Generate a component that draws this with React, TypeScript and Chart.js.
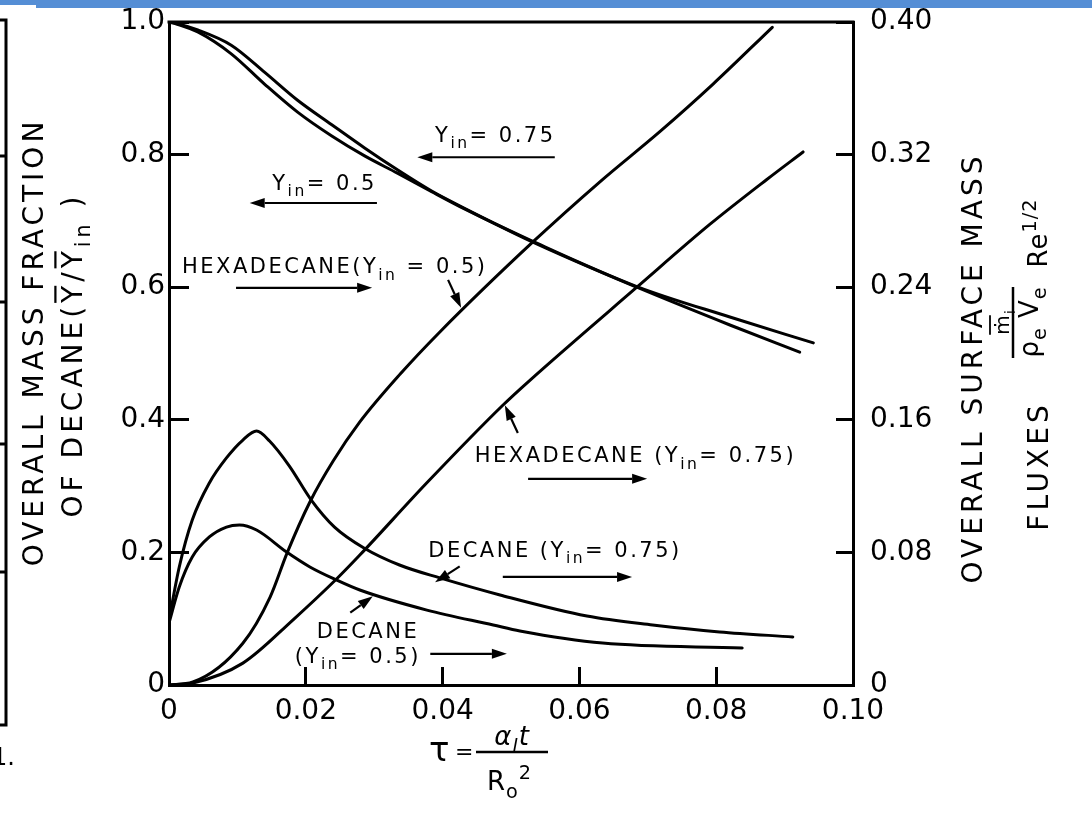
import React, { useEffect, useRef } from 'react';
import { Chart, registerables } from 'chart.js';
Chart.register(...registerables);

const FONT = 'DejaVu Sans';

// ---- tick labels ----
const X_TICK_LABELS = ['0', '0.02', '0.04', '0.06', '0.08', '0.10'];
const Y_LEFT_TICK_LABELS = ['0', '0.2', '0.4', '0.6', '0.8', '1.0'];
const Y_RIGHT_TICK_LABELS = ['0', '0.08', '0.16', '0.24', '0.32', '0.40'];

// ---- left axis: overall mass fraction of decane (Y / Yin) ----
const TAU_FRAC_075 = [0, 0.0008, 0.0042, 0.0091, 0.014, 0.0188, 0.0238, 0.0286, 0.0334, 0.0384, 0.0432, 0.0528, 0.0684, 0.082, 0.0922];
const FRAC_075 = [1.0, 0.9985, 0.988, 0.965, 0.924, 0.882, 0.845, 0.81, 0.777, 0.745, 0.719, 0.67, 0.6, 0.543, 0.502];
const TAU_FRAC_050 = [0, 0.0008, 0.0042, 0.0091, 0.014, 0.0188, 0.0238, 0.0286, 0.0334, 0.0384, 0.0432, 0.0528, 0.0684, 0.082, 0.0942];
const FRAC_050 = [1.0, 0.998, 0.985, 0.952, 0.906, 0.864, 0.828, 0.798, 0.772, 0.744, 0.718, 0.671, 0.601, 0.555, 0.516];

// ---- right axis: overall surface mass fluxes ----
const TAU_HEX_050 = [0, 0.0035, 0.0108, 0.0148, 0.0173, 0.0206, 0.024, 0.0279, 0.0338, 0.0396, 0.0532, 0.063, 0.0718, 0.0795, 0.0882];
const HEX_050 = [0, 0.0018, 0.0252, 0.0532, 0.08, 0.1104, 0.1351, 0.1587, 0.1876, 0.213, 0.2673, 0.3036, 0.334, 0.3624, 0.3968];
const TAU_HEX_075 = [0, 0.0035, 0.0108, 0.0181, 0.0246, 0.0279, 0.0377, 0.0488, 0.0528, 0.0684, 0.0791, 0.0874, 0.0927];
const HEX_075 = [0, 0.0012, 0.0132, 0.0392, 0.0644, 0.0784, 0.122, 0.1688, 0.184, 0.24, 0.278, 0.305, 0.3216];
const TAU_DEC_075 = [0, 0.0015, 0.0034, 0.0059, 0.0084, 0.0108, 0.0128, 0.0147, 0.0176, 0.0208, 0.0242, 0.0285, 0.0337, 0.0396, 0.0484, 0.0611, 0.0707, 0.0805, 0.0912];
const DEC_075 = [0.0392, 0.0712, 0.0995, 0.1219, 0.137, 0.1478, 0.1532, 0.1472, 0.1321, 0.1116, 0.0953, 0.0827, 0.0724, 0.0646, 0.0543, 0.0416, 0.0362, 0.032, 0.029];
const TAU_DEC_050 = [0, 0.0015, 0.0034, 0.0059, 0.0084, 0.0103, 0.0128, 0.0172, 0.0206, 0.0245, 0.0279, 0.0377, 0.0474, 0.0513, 0.0634, 0.0838];
const DEC_050 = [0.0374, 0.0591, 0.0772, 0.0893, 0.0953, 0.0965, 0.0935, 0.0802, 0.0712, 0.0633, 0.0573, 0.0452, 0.0362, 0.0326, 0.0253, 0.0223];

type Seg = { t: string; k?: 'sub' | 'sup'; bar?: boolean; it?: boolean; f?: number };
const s = (t: string, extra: Partial<Seg> = {}): Seg => ({ t, ...extra });

// ---- in-plot notes (anchor in data units: tau, left-axis value) ----
const NOTES: { segs: Seg[]; at: [number, number] }[] = [
  { segs: [s('Y'), s('in', { k: 'sub' }), s('= 0.75')], at: [0.0389, 0.819] },
  { segs: [s('Y'), s('in', { k: 'sub' }), s('= 0.5')], at: [0.0151, 0.747] },
  { segs: [s('HEXADECANE(Y'), s('in', { k: 'sub' }), s(' = 0.5)')], at: [0.0019, 0.621] },
  { segs: [s('HEXADECANE (Y'), s('in', { k: 'sub' }), s('= 0.75)')], at: [0.0447, 0.336] },
  { segs: [s('DECANE (Y'), s('in', { k: 'sub' }), s('= 0.75)')], at: [0.0379, 0.193] },
  { segs: [s('DECANE')], at: [0.0216, 0.071] },
  { segs: [s('(Y'), s('in', { k: 'sub' }), s('= 0.5)')], at: [0.0184, 0.033] },
];
const ARROWS: { from: [number, number]; to: [number, number] }[] = [
  { from: [0.0564, 0.796], to: [0.0363, 0.796] },
  { from: [0.0304, 0.727], to: [0.0118, 0.727] },
  { from: [0.0098, 0.599], to: [0.0297, 0.599] },
  { from: [0.0408, 0.611], to: [0.0427, 0.569] },
  { from: [0.0525, 0.311], to: [0.0699, 0.311] },
  { from: [0.051, 0.38], to: [0.0491, 0.422] },
  { from: [0.0488, 0.163], to: [0.0677, 0.163] },
  { from: [0.0425, 0.179], to: [0.0389, 0.155] },
  { from: [0.0382, 0.047], to: [0.0494, 0.047] },
  { from: [0.0265, 0.109], to: [0.0298, 0.134] },
];

function segFont(g: Seg, size: number) {
  const sz = (g.k ? size * 0.74 : size) * (g.f ?? 1);
  return { font: `${g.it ? 'italic ' : ''}${sz}px "${FONT}"`, sz };
}

function richWidth(ctx: CanvasRenderingContext2D, segs: Seg[], size: number, sp: number) {
  let w = 0;
  for (const g of segs) {
    ctx.font = segFont(g, size).font;
    (ctx as any).letterSpacing = `${sp}px`;
    w += ctx.measureText(g.t).width;
  }
  return w;
}

function drawRich(ctx: CanvasRenderingContext2D, segs: Seg[], x: number, y: number, size: number, sp: number, align: 'left' | 'center' = 'left') {
  ctx.save();
  ctx.textBaseline = 'alphabetic';
  ctx.textAlign = 'left';
  let cx = align === 'center' ? x - richWidth(ctx, segs, size, sp) / 2 : x;
  for (const g of segs) {
    const { font, sz } = segFont(g, size);
    ctx.font = font;
    (ctx as any).letterSpacing = `${sp}px`;
    const dy = g.k === 'sub' ? size * 0.3 : g.k === 'sup' ? -size * 0.42 : 0;
    ctx.fillText(g.t, cx, y + dy);
    const w = ctx.measureText(g.t).width;
    if (g.bar) {
      ctx.lineWidth = Math.max(1.8, sz * 0.08);
      ctx.beginPath();
      ctx.moveTo(cx, y + dy - sz * 0.95);
      ctx.lineTo(cx + w - sp, y + dy - sz * 0.95);
      ctx.stroke();
    }
    cx += w;
  }
  ctx.restore();
}

function drawRot(ctx: CanvasRenderingContext2D, segs: Seg[], baseX: number, centerY: number, size: number, sp: number) {
  ctx.save();
  ctx.translate(baseX, centerY);
  ctx.rotate(-Math.PI / 2);
  drawRich(ctx, segs, 0, 0, size, sp, 'center');
  ctx.restore();
}

function arrow(ctx: CanvasRenderingContext2D, x1: number, y1: number, x2: number, y2: number, head = 15, half = 5) {
  const ang = Math.atan2(y2 - y1, x2 - x1);
  const bx = x2 - head * Math.cos(ang);
  const by = y2 - head * Math.sin(ang);
  ctx.beginPath();
  ctx.moveTo(x1, y1);
  ctx.lineTo(bx, by);
  ctx.stroke();
  ctx.beginPath();
  ctx.moveTo(x2, y2);
  ctx.lineTo(bx + half * Math.sin(ang), by - half * Math.cos(ang));
  ctx.lineTo(bx - half * Math.sin(ang), by + half * Math.cos(ang));
  ctx.closePath();
  ctx.fill();
}

const decorPlugin = {
  id: 'decor',
  afterDraw(chart: any) {
    const { ctx, chartArea: a, scales } = chart;
    const px = (t: number) => scales.x.getPixelForValue(t);
    const py = (v: number) => scales.y.getPixelForValue(v);
    ctx.save();
    ctx.fillStyle = '#000';
    ctx.strokeStyle = '#000';

    // top frame line
    ctx.lineWidth = 3;
    ctx.beginPath();
    ctx.moveTo(a.left - 1.5, a.top);
    ctx.lineTo(a.right + 1.5, a.top);
    ctx.stroke();

    // notes and arrows
    for (const n of NOTES) drawRich(ctx, n.segs, px(n.at[0]), py(n.at[1]), 21, 2.5);
    ctx.lineWidth = 2.2;
    for (const ar of ARROWS) arrow(ctx, px(ar.from[0]), py(ar.from[1]), px(ar.to[0]), py(ar.to[1]));

    // left axis title
    drawRot(ctx, [s('OVERALL MASS FRACTION')], 43, 342, 28, 4);
    drawRot(ctx, [s('OF DECANE('), s('Y', { bar: true }), s('/'), s('Y', { bar: true }), s('in', { k: 'sub' }), s(' )')], 82, 355, 28, 4);

    // right axis title
    drawRot(ctx, [s('OVERALL SURFACE MASS')], 982, 368, 28, 4);
    drawRot(ctx, [s('FLUXES')], 1048, 466, 28, 4);
    drawRot(ctx, [s('ṁ', { bar: true }), s('i', { k: 'sub' })], 1009, 322, 20, 1);
    ctx.lineWidth = 2.5;
    ctx.beginPath();
    ctx.moveTo(1013, 287);
    ctx.lineTo(1013, 358);
    ctx.stroke();
    drawRot(ctx, [s('ρ'), s('e', { k: 'sub' }), s(' V'), s('e', { k: 'sub' })], 1038, 322, 26, 1);
    drawRot(ctx, [s('Re'), s('1/2', { k: 'sup' })], 1047, 233, 26, 1);

    // x axis title
    drawRich(ctx, [s('τ')], 429, 761, 34, 0);
    drawRich(ctx, [s('=')], 455, 759, 22, 0);
    ctx.lineWidth = 2.5;
    ctx.beginPath();
    ctx.moveTo(476, 752);
    ctx.lineTo(548, 752);
    ctx.stroke();
    drawRich(ctx, [s('α', { it: true }), s('l', { k: 'sub', it: true }), s('t', { it: true })], 512, 745, 26, 1, 'center');
    drawRich(ctx, [s('R'), s('o', { k: 'sub' }), s('2', { k: 'sup' })], 487, 790, 26, 1);

    // page fragments around the figure
    ctx.fillStyle = '#558ed5';
    ctx.fillRect(0, 0, 1092, 5);
    ctx.fillRect(36, 0, 1056, 8);
    ctx.fillStyle = '#000';
    ctx.lineWidth = 3;
    ctx.beginPath();
    ctx.moveTo(0, 20);
    ctx.lineTo(6, 20);
    ctx.lineTo(6, 725);
    ctx.lineTo(0, 725);
    for (const ty of [156, 302, 444, 572]) {
      ctx.moveTo(0, ty);
      ctx.lineTo(6, ty);
    }
    ctx.stroke();
    drawRich(ctx, [s('1.')], -8, 765, 24, 0);
    ctx.restore();
  },
};

function series(tau: number[], vals: number[], axis: string) {
  return {
    data: tau.map((t, i) => ({ x: t, y: vals[i] })),
    yAxisID: axis,
    borderColor: '#000',
    borderWidth: 3,
    pointRadius: 0,
    showLine: true,
    fill: false,
    cubicInterpolationMode: 'monotone' as const,
    borderCapStyle: 'round' as const,
  };
}

const fitV = (w: number) => (sc: any) => { sc.width = w; sc.paddingTop = 0; sc.paddingBottom = 0; };
const fitH = (h: number) => (sc: any) => { sc.height = h; sc.paddingLeft = 0; sc.paddingRight = 0; };

export default function App() {
  const ref = useRef<HTMLCanvasElement>(null);
  useEffect(() => {
    const canvas = ref.current!;
    const tickFont = { family: FONT, size: 28 };
    const chart = new Chart(canvas, {
      type: 'scatter',
      data: {
        datasets: [
          series(TAU_FRAC_075, FRAC_075, 'y'),
          series(TAU_FRAC_050, FRAC_050, 'y'),
          series(TAU_HEX_050, HEX_050, 'y2'),
          series(TAU_HEX_075, HEX_075, 'y2'),
          series(TAU_DEC_075, DEC_075, 'y2'),
          series(TAU_DEC_050, DEC_050, 'y2'),
        ] as any,
      },
      options: {
        animation: false,
        responsive: false,
        devicePixelRatio: 1,
        layout: { padding: { top: 22, left: 0, right: 0, bottom: 0 } },
        plugins: { legend: { display: false }, tooltip: { enabled: false } },
        scales: {
          x: {
            type: 'linear',
            min: 0,
            max: 0.1,
            position: 'bottom',
            afterFit: fitH(129),
            ticks: {
              stepSize: 0.02,
              autoSkip: false,
              maxRotation: 0,
              padding: 28,
              color: '#000',
              font: tickFont,
              callback: (_v: any, i: number) => X_TICK_LABELS[i],
            },
            grid: { drawOnChartArea: false, tickLength: -18, tickWidth: 3, tickColor: '#000' },
            border: { display: true, color: '#000', width: 3 },
          },
          y: {
            type: 'linear',
            min: 0,
            max: 1,
            position: 'left',
            afterFit: fitV(169),
            ticks: {
              stepSize: 0.2,
              padding: 24,
              color: '#000',
              font: tickFont,
              callback: (_v: any, i: number) => Y_LEFT_TICK_LABELS[i],
            },
            grid: { drawOnChartArea: false, tickLength: -20, tickWidth: 3, tickColor: '#000' },
            border: { display: true, color: '#000', width: 3 },
          },
          y2: {
            type: 'linear',
            min: 0,
            max: 0.4,
            position: 'right',
            afterFit: fitV(239),
            ticks: {
              stepSize: 0.08,
              padding: 34,
              color: '#000',
              font: tickFont,
              callback: (_v: any, i: number) => Y_RIGHT_TICK_LABELS[i],
            },
            grid: { drawOnChartArea: false, tickLength: -17, tickWidth: 3, tickColor: '#000' },
            border: { display: true, color: '#000', width: 3 },
          },
        },
      } as any,
      plugins: [decorPlugin],
    });
    return () => chart.destroy();
  }, []);
  return (
    <div style={{ position: 'fixed', left: 0, top: 0, width: 1092, height: 814, background: '#fff' }}>
      <canvas ref={ref} width={1092} height={814} style={{ display: 'block', width: 1092, height: 814 }} />
    </div>
  );
}
